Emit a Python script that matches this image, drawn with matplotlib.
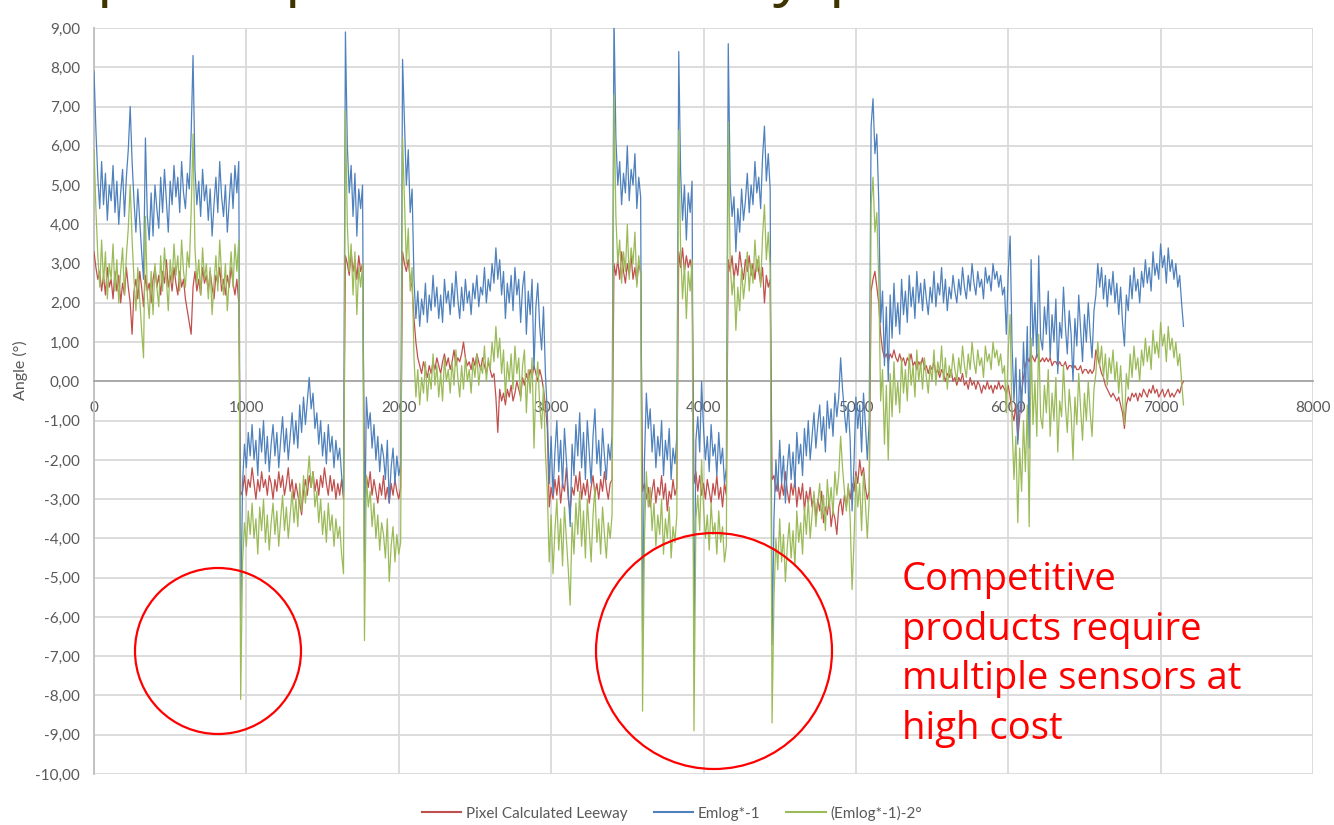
import numpy as np
import matplotlib
matplotlib.use("Agg")
import matplotlib.pyplot as plt
from matplotlib.lines import Line2D
from matplotlib.patches import Ellipse

# ---------------- data (one sample every 12.5 units) ----------------
STEP = 12.5

# Emlog*-1 (blue)
emlog_a = [7.9, 6.4, 5.2, 4.4, 5.6, 4.5, 5.3, 4.1, 5.0, 4.6,
           5.5, 4.3, 5.1, 4.0, 4.8, 5.4, 4.2, 5.2, 5.9, 7.0,
           5.6, 4.6, 3.8, 4.9, 4.1, 3.3, 2.6, 6.2, 4.2, 3.6,
           4.8, 3.7, 5.0, 4.4, 3.9, 5.2, 4.3, 5.4, 4.6, 3.8,
           5.1, 4.5, 5.5, 4.7, 5.2, 4.3, 5.6, 4.8, 4.4, 5.3,
           4.9, 6.3, 8.3, 5.4, 4.5, 5.1, 4.2, 5.4, 4.6, 5.0,
           4.1, 4.9, 3.7, 4.5, 5.2, 4.3, 5.6, 4.7, 4.2, 5.0,
           3.8, 4.6, 5.3, 4.4, 5.5, 4.8, 5.6, -6.1]
emlog_b = [-2.6, -1.6, -2.2, -1.3, -1.9, -1.1, -2.0, -1.5, -2.4, -1.2,
           -1.8, -1.0, -2.1, -1.4, -2.3, -1.6, -1.1, -1.9, -1.3, -2.2,
           -1.5, -0.9, -1.8, -1.2, -2.0, -1.4, -0.8, -1.6, -1.0, -1.7,
           -0.6, -1.3, -0.4, -1.1, -0.5, 0.1, -0.7, -0.3, -1.2, -0.8,
           -1.6, -1.0, -1.9, -1.3, -2.1, -1.1, -1.8, -1.4, -2.2, -1.5,
           -2.0, -1.7, -2.4, -2.9,
           8.9, 6.0, 4.8, 5.5, 4.2, 5.3, 3.7, 4.9, 4.4, 5.0, -4.6,
           -0.4, -1.2, -0.8, -1.7, -1.1, -2.0, -1.4, -2.3, -1.6, -1.9,
           -2.5, -1.5, -3.1, -2.2, -1.7, -2.6, -1.9, -2.4, -2.1,
           8.2, 6.6, 5.0, 5.9, 4.3, 4.9]
emlog_c = [2.6, 1.6, 2.3, 1.4, 2.1, 1.7, 2.5, 1.5, 2.2, 1.8,
           2.7, 1.9, 2.4, 1.6, 2.2, 1.5, 2.6, 2.0, 2.3, 1.7,
           2.5, 1.9, 2.8, 2.1, 1.6, 2.4, 1.8, 2.6, 2.0, 2.3,
           1.7, 2.5, 2.1, 2.7, 1.9, 2.4, 2.2, 2.9, 2.0, 2.6,
           2.3, 3.0, 2.5, 3.4, 2.6, 3.1, 2.2, 2.8, 1.6, 2.5,
           2.0, 2.7, 1.8, 2.9, 2.2, 2.6, 1.5, 2.4, 2.8, 1.2,
           2.3, 1.7, 2.6, 0.3, 1.9, 2.5, 1.4, 0.8, 1.9, 0.2, -0.8]
emlog_d = [-2.6, -1.4, -2.9, -1.8, -1.0, -2.3, -1.5, -2.7, -1.2, -2.0,
           -2.8, -3.7, -1.6, -2.4, -1.1, -1.9, -0.8, -2.2, -1.3, -2.5,
           -1.0, -1.8, -2.6, -1.4, -0.7, -2.1, -1.5, -2.4, -1.2, -1.9,
           -2.5, -1.6, -2.0, -1.4,
           9.3, 6.2, 5.0, 5.6, 4.5, 5.3, 4.8, 6.0, 4.6, 5.4, 5.0, 5.8, 4.4, 5.2, 4.7,
           -6.4,
           -2.0, -0.3, -1.2, -0.7, -1.8, -1.1, -2.2, -1.4, -1.9, -1.0,
           -2.4, -1.5, -2.0, -1.2, -2.5, -1.7, -2.1, -1.4,
           8.4, 5.3, 4.1, 5.0, 3.6, 4.8, 4.3, 5.1, -6.9,
           -1.5, -0.9, -1.8, 0.0, -1.2, -2.0, -1.4, -2.3, -1.1, -1.9,
           -1.6, -2.4, -1.3, -2.1, -1.7, -2.6, -2.2,
           8.6, 5.0, 4.2, 4.7, 3.3, 4.4, 3.8, 4.9, 4.1, 4.6, 5.3,
           4.3, 5.0, 4.5, 5.6, 4.8, 5.2, 4.4, 5.7, 6.5, 5.1, 5.8, 4.9, -6.7]
emlog_e = [-3.5, -2.0, -2.8, -1.5, -2.6, -1.9, -3.1, -2.2, -1.6, -2.5,
           -1.8, -2.7, -1.3, -2.1, -1.6, -2.4, -1.2, -1.9, -1.0, -2.0,
           -1.4, -0.8, -1.7, -1.1, -0.6, -1.5, -0.9, -1.8, -0.5, -1.2,
           -0.7, -1.4, -0.3, -0.9, -0.4, 0.6, -0.2, -0.8, -1.3, -0.6,
           -1.5, -3.3, -2.1, -0.4, -1.2, -0.6, -1.8, -0.3, -1.1, -2.0,
           -1.0, 6.5, 7.2, 5.8, 6.3, 4.6]
emlog_f = [1.5, 2.3, 0.4, 1.9, 0.0, 2.2, 1.1, 2.5, 1.4, 2.0,
           1.2, 2.6, 1.7, 2.3, 1.5, 2.7, 1.9, 2.4, 1.6, 2.8,
           2.0, 2.5, 1.8, 2.6, 2.1, 1.7, 2.4, 2.0, 2.8, 1.9,
           2.5, 2.2, 2.9, 2.0, 2.6, 1.8, 2.4, 2.1, 2.7, 2.3,
           2.0, 2.6, 2.2, 2.9, 2.4, 2.1, 2.7, 2.3, 3.0, 2.5,
           2.2, 2.8, 2.4, 2.6, 2.1, 2.9, 2.5, 2.7, 2.3, 3.0,
           2.6, 2.8, 2.4, 2.7, 2.2]
emlog_g = [2.4, 1.2, 2.8, 3.7, 0.9, -0.5, 0.6, -1.6, 0.3, -0.8,
           1.0, -0.3, 1.4, -1.7, 3.1, 0.9, 2.0, 0.6, 3.2, 1.1,
           0.8, 1.9, 1.2, 2.3, 0.6, 1.7, 1.0, 2.1, 0.2, 1.5,
           1.1, 2.4, 1.4, 0.7, 1.8, 1.2, 0.0, 1.6, 0.9, 2.2,
           1.3, 0.5, 1.7, 1.0, 2.0, 1.2, 0.6, 1.8,
           2.2, 3.0, 2.4, 2.9, 2.1, 2.7, 1.9, 2.6, 2.2, 2.8,
           2.0, 2.5, 1.7, 2.4, 1.5, 0.9, 2.2, 1.8, 2.7, 2.1,
           2.9, 2.3, 2.6, 2.0, 2.8, 2.4, 3.1, 2.5, 2.9, 2.3,
           3.3, 2.7, 3.0, 2.6, 3.5, 2.9, 3.2, 2.5, 3.4, 2.8,
           3.1, 2.6, 3.0, 2.4, 2.7, 2.0, 1.4]

# Pixel Calculated Leeway (red)
leeway_a = [3.3, 2.9, 2.6, 2.8, 2.3, 2.7, 2.2, 2.9, 2.4, 2.6,
            2.1, 2.8, 2.3, 2.7, 2.0, 2.5, 2.2, 2.9, 2.4, 2.0,
            1.2, 2.3, 2.6, 2.1, 2.8, 2.4, 1.9, 2.7, 2.3, 2.5,
            2.0, 2.6, 2.9, 2.4, 2.7, 2.2, 2.8, 2.5, 3.1, 2.4,
            2.7, 2.3, 2.9, 2.5, 2.2, 2.8, 2.4, 2.6, 2.1, 1.8,
            1.5, 1.2, 2.4, 2.8, 2.3, 2.6, 2.2, 2.9, 2.5, 2.7,
            2.3, 2.8, 2.4, 2.1, 2.7, 2.5, 2.9, 2.3, 2.6, 2.2,
            2.7, 2.4, 2.9, 2.5, 2.2, 2.6, 2.0, -2.9]
leeway_b = [-2.8, -2.4, -2.9, -2.5, -2.7, -2.2, -2.6, -3.0, -2.5, -2.8,
            -2.3, -2.7, -2.5, -2.9, -2.4, -2.6, -3.0, -2.5, -2.8, -2.3,
            -2.7, -2.4, -2.9, -2.6, -2.2, -2.8, -2.5, -3.0, -2.6, -2.9,
            -3.1, -3.4, -2.8, -2.5, -2.9, -2.4, -2.7, -2.3, -2.8, -2.5,
            -2.9, -2.4, -2.7, -2.2, -2.6, -2.9, -2.4, -2.8, -2.5, -3.0,
            -2.6, -2.9, -2.5, -3.0,
            3.2, 3.0, 2.7, 3.3, 2.8, 3.1, 2.6, 3.2, 2.8, 3.0, -2.6,
            -2.4, -2.7, -2.3, -2.9, -2.5, -2.8, -3.1, -2.6, -2.9, -2.4,
            -3.0, -2.7, -3.1, -2.6, -2.9, -2.5, -2.8, -3.0, -2.7,
            3.3, 3.0, 2.8, 3.1, 2.6, 2.4]
leeway_c = [1.6, 1.0, 0.6, 0.4, 0.2, 0.5, 0.3, 0.1, 0.4, 0.2,
            0.5, 0.3, 0.6, 0.4, 0.2, 0.5, 0.7, 0.4, 0.6, 0.3,
            0.5, 0.8, 0.4, 0.6, 0.5, 0.7, 1.0, 0.6, 0.4, 0.5,
            0.3, 0.6, 0.4, 0.7, 0.5, 0.3, 0.6, 0.4, 0.2, 0.5,
            0.3, 0.1, 0.2, -0.4, -1.3, -0.2, -0.5, -0.3, -0.6, -0.2,
            -0.4, -0.1, -0.5, -0.3, 0.0, -0.2, -0.4, 0.1, -0.1, 0.2,
            0.0, 0.3, 0.1, 0.4, 0.2, 0.0, 0.3, 0.1, -0.2, -0.6, -1.2]
leeway_d = [-3.2, -2.7, -3.0, -2.5, -2.9, -2.4, -3.1, -2.6, -2.8, -2.2,
            -3.0, -3.3, -2.7, -2.9, -2.4, -2.8, -2.3, -3.0, -2.6, -2.9,
            -2.5, -3.1, -2.7, -2.4, -2.9, -2.6, -3.0, -2.5, -2.8, -2.3,
            -2.7, -3.0, -2.6, -2.5,
            3.0, 2.7, 3.1, 2.6, 3.3, 2.8, 2.5, 3.0, 2.7, 3.2, 2.6, 2.9, 2.5, 3.0, 2.8,
            -2.8,
            -2.6, -3.0, -2.7, -3.2, -2.8, -2.5, -3.1, -2.7, -2.9, -2.4,
            -3.0, -2.6, -3.3, -2.8, -3.0, -2.5, -2.9, -2.7,
            3.3, 2.9, 3.4, 2.8, 3.2, 2.9, 3.1, 2.8, -2.6,
            -2.3, -2.8, -2.4, -2.9, -2.6, -3.0, -2.5, -2.8, -3.1, -2.6,
            -2.9, -2.4, -3.0, -2.7, -3.2, -2.6, -2.9,
            3.1, 2.8, 3.2, 2.6, 3.0, 2.7, 3.3, 2.9, 2.6, 3.1, 2.8,
            3.2, 2.7, 3.0, 2.6, 3.1, 2.8, 2.5, 2.9, 2.0, 2.7, 2.4, 2.6, -2.5]
leeway_e = [-2.4, -2.8, -2.5, -3.0, -2.6, -2.9, -2.3, -2.8, -3.1, -2.6,
            -2.9, -2.5, -3.2, -2.7, -3.0, -2.6, -3.3, -2.8, -3.1, -2.7,
            -3.2, -2.9, -3.5, -3.0, -3.3, -2.8, -3.6, -3.2, -3.4, -3.0,
            -3.7, -3.3, -3.5, -3.9, -3.2, -3.0, -3.4, -2.9, -3.2, -2.7,
            -3.0, -2.6, -2.8, -2.3, -2.6, -2.0, -2.4, -2.2, -2.7, -3.0,
            -2.8, 2.3, 2.6, 2.8, 2.4, 2.0]
leeway_f = [1.2, 0.8, 0.6, 0.7, 0.5, 0.7, 0.6, 0.8, 0.6, 0.5,
            0.7, 0.5, 0.6, 0.4, 0.6, 0.5, 0.7, 0.4, 0.5, 0.3,
            0.5, 0.4, 0.6, 0.3, 0.4, 0.2, 0.4, 0.3, 0.5, 0.2,
            0.3, 0.1, 0.3, 0.2, 0.0, 0.2, 0.1, 0.3, 0.0, 0.1,
            -0.1, 0.1, 0.0, 0.2, -0.1, 0.0, -0.2, 0.1, -0.1, 0.0,
            -0.2, 0.0, -0.1, -0.3, -0.1, -0.2, 0.0, -0.2, -0.1, -0.3,
            -0.1, -0.2, 0.0, -0.2, -0.1]
leeway_g = [-0.2, -0.3, -0.1, -0.4, -0.8, -1.0, -0.6, -1.5, -0.9, -0.3,
            0.1, 0.4, 0.6, 0.5, 0.7, 0.6, 0.5, 0.7, 0.6, 0.5,
            0.6, 0.5, 0.6, 0.5, 0.6, 0.4, 0.5, 0.5, 0.4, 0.5,
            0.4, 0.4, 0.5, 0.3, 0.4, 0.4, 0.3, 0.4, 0.3, 0.3,
            0.4, 0.2, 0.3, 0.3, 0.2, 0.3, 0.2, 0.3,
            0.8, 0.6, 0.4, 0.2, 0.1, -0.1, -0.2, -0.3, -0.4, -0.3,
            -0.4, -0.5, -0.4, -0.6, -0.8, -1.2, -0.6, -0.4, -0.5, -0.3,
            -0.4, -0.3, -0.5, -0.3, -0.4, -0.2, -0.3, -0.4, -0.2, -0.3,
            -0.1, -0.3, -0.2, -0.4, -0.3, -0.2, -0.4, -0.3, -0.2, -0.4,
            -0.3, -0.4, -0.3, -0.2, -0.3, -0.1, 0.0]

OFFSET_DEG = 2.0   # third series is defined as (Emlog*-1) - 2°

series_names = ["Pixel Calculated Leeway", "Emlog*-1", "(Emlog*-1)-2°"]
x_ticks = [0, 1000, 2000, 3000, 4000, 5000, 6000, 7000, 8000]
y_ticks = list(range(-10, 10))
annotation = "Competitive\nproducts require\nmultiple sensors at\nhigh cost"
title_fragments = ["p", "p", "y", "p"]

# ---------------- assemble ----------------
emlog = np.concatenate([emlog_a, emlog_b, emlog_c, emlog_d, emlog_e, emlog_f, emlog_g])
leeway = np.concatenate([leeway_a, leeway_b, leeway_c, leeway_d, leeway_e, leeway_f, leeway_g])
emlog_shift = emlog - OFFSET_DEG
x_em = np.arange(len(emlog)) * STEP
x_lw = np.arange(len(leeway)) * STEP

RED = "#C0504D"
BLUE = "#4F81BD"
GREEN = "#9BBB59"
GRID = "#D9D9D9"
TXT = "#595959"

plt.rcParams["font.family"] = ["Lato", "DejaVu Sans"]

W, H = 1334, 825
fig = plt.figure(figsize=(W / 100, H / 100), dpi=100)
fig.patch.set_facecolor("white")
ax = fig.add_axes([94 / W, 1 - 774 / H, (1313 - 94) / W, (774 - 28) / H])

ax.plot(x_lw, leeway, color=RED, lw=0.9, zorder=3)
ax.plot(x_em, emlog, color=BLUE, lw=0.9, zorder=4)
ax.plot(x_em, emlog_shift, color=GREEN, lw=0.9, zorder=5)

ax.set_xlim(0, 8000)
ax.set_ylim(-10, 9)
ax.set_xticks(x_ticks)
ax.set_yticks(y_ticks)
ax.set_yticklabels([f"{v:.2f}".replace(".", ",") for v in y_ticks])
ax.set_xticklabels([str(v) for v in x_ticks])
ax.grid(True, color=GRID, lw=1.3, zorder=0)
ax.set_axisbelow(True)
ax.tick_params(axis="both", length=0, labelsize=11, labelcolor=TXT)
ax.tick_params(axis="y", pad=10)
ax.tick_params(axis="x", pad=14)
for s in ["top", "right"]:
    ax.spines[s].set_visible(False)
ax.spines["left"].set_color("#BFBFBF")
ax.spines["left"].set_linewidth(1.3)
ax.spines["bottom"].set_position(("data", 0))
ax.spines["bottom"].set_color("#A6A6A6")
ax.spines["bottom"].set_linewidth(1.3)
ax.set_ylabel("Angle (°)", color=TXT, fontsize=11.5)
ax.yaxis.set_label_coords((28 - 94) / 1219, (774 - 370) / 746)

# legend
handles = [Line2D([], [], color=c, lw=1.5) for c in (RED, BLUE, GREEN)]
fig.legend(handles, series_names, loc="center", bbox_to_anchor=(672 / W, 1 - 813 / H),
           ncol=3, frameon=False, fontsize=11, labelcolor=TXT, handlelength=2.6,
           handletextpad=0.3, columnspacing=1.7)

# red circles (slide annotations)
for cx, cy, r in [(218, 651, 83), (714, 651, 118)]:
    e = Ellipse((cx / W, 1 - cy / H), 2 * r / W, 2 * r / H, transform=fig.transFigure,
                fill=False, edgecolor="#FF0000", lw=1.6, zorder=10)
    fig.add_artist(e)

fig.text(902 / W, 1 - 561 / H, annotation, color="#FF0000", fontsize=27.5,
         family=["Open Sans", "DejaVu Sans"], ha="left", va="top", linespacing=1.4)

# cut-off slide title (only descenders visible above the chart)
for ch, px in zip(title_fragments, [97, 285, 773, 829]):
    fig.text(px / W, 1 + 5.5 / H, ch, color="#3F3300", fontsize=44,
             family=["Open Sans", "DejaVu Sans"], ha="left", va="baseline")

fig.savefig("out.png", dpi=100, facecolor="white")
